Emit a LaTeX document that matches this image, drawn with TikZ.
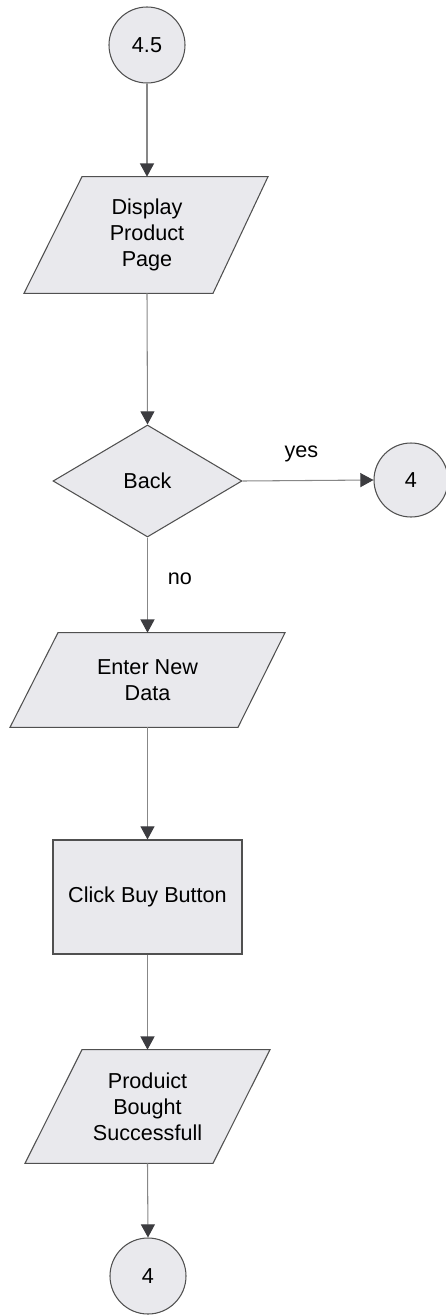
\documentclass[tikz,border=0pt]{standalone}
\usepackage{fontspec}
\setmainfont{Liberation Sans}
\usetikzlibrary{arrows.meta,shapes.geometric}
\definecolor{boxfill}{RGB}{233,233,237}
\definecolor{boxline}{RGB}{80,80,80}
\definecolor{conn}{RGB}{135,135,135}
\definecolor{tipc}{RGB}{60,60,64}
\begin{document}
\begin{tikzpicture}[x=0.02cm,y=-0.02cm,
  txt/.style={font=\fontsize{12.3}{14.7}\selectfont, align=center, text=black},
  conncircle/.style={circle, draw=boxline, fill=boxfill, line width=0.6pt, minimum size=76*0.02cm, inner sep=0pt, txt},
  procbox/.style={rectangle, draw=boxline, fill=boxfill, line width=0.6pt, inner sep=0pt, txt},
  decision/.style={diamond, draw=boxline, fill=boxfill, line width=0.6pt, inner sep=0pt, txt, minimum width=189*0.02cm, minimum height=112*0.02cm},
  iobox/.style={rectangle, inner sep=0pt, txt},
  paraline/.style={draw=boxline, fill=boxfill, line width=0.6pt},
  flow/.style={draw=conn, line width=0.6pt, -{Triangle[length=7.5pt,width=8pt,color=tipc]}},
  lbl/.style={font=\fontsize{12.3}{14.7}\selectfont, text=black}
]
\useasboundingbox (0,0) rectangle (446,1315);

% connector circle 4.5
\node[conncircle] (c45) at (147,45) {4.5};

% Display Product Page
\node[iobox, minimum width=188*0.02cm, minimum height=116*0.02cm] (disp) at (147,235) {};
\path[paraline] ([xshift=-65*0.02cm]disp.north) -- ([xshift=121*0.02cm]disp.north)
  -- ([xshift=66*0.02cm]disp.south) -- ([xshift=-123*0.02cm]disp.south) -- cycle;
\node[txt] at (disp) {Display\\Product\\Page};

% Decision
\node[decision] (back) at (147.5,481) {Back};

% Right connector
\node[conncircle, minimum size=74*0.02cm] (c4a) at (411,480) {4};

% Enter New Data
\node[iobox, minimum width=227*0.02cm, minimum height=94*0.02cm] (enter) at (147.5,680) {};
\path[paraline] ([xshift=-89.5*0.02cm]enter.north) -- ([xshift=137.5*0.02cm]enter.north)
  -- ([xshift=90.5*0.02cm]enter.south) -- ([xshift=-137.5*0.02cm]enter.south) -- cycle;
\node[txt] at (enter) {Enter New\\Data};

% Click Buy Button
\node[procbox, minimum width=189*0.02cm, minimum height=114*0.02cm] (click) at (147.5,897) {Click Buy Button};

% Product Bought Successfull
\node[iobox, minimum width=188*0.02cm, minimum height=113*0.02cm] (bought) at (147.5,1106.5) {};
\path[paraline] ([xshift=-65.5*0.02cm]bought.north) -- ([xshift=122.5*0.02cm]bought.north)
  -- ([xshift=65.5*0.02cm]bought.south) -- ([xshift=-122.5*0.02cm]bought.south) -- cycle;
\node[txt] at (bought) {Produict\\Bought\\Successfull};

% bottom connector
\node[conncircle] (c4b) at (148,1276) {4};

% connectors
\draw[flow] (c45.south) -- (c45.south |- disp.north);
\draw[flow] (disp.south) -- (back.north);
\draw[flow] (back.east) -- node[lbl, above=7pt, pos=0.45] (yes) {yes} (c4a.west);
\draw[flow] (back.south) -- node[lbl, right=8pt, pos=0.43] (no) {no} (enter.north);
\draw[flow] (enter.south) -- (click.north);
\draw[flow] (click.south) -- (bought.north);
\draw[flow] (bought.south) -- (c4b.north);
\end{tikzpicture}
\end{document}
